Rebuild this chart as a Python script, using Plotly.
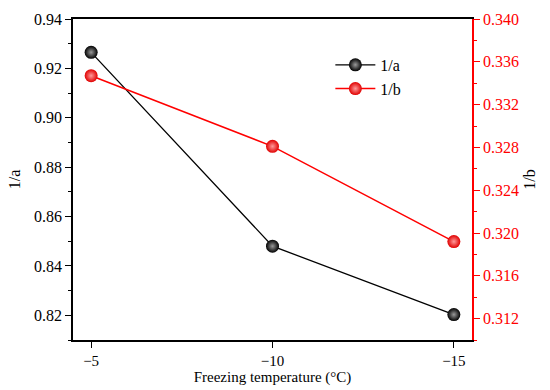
import plotly.graph_objects as go

temps = [-5, -10, -15]
inv_a = [0.9265, 0.848, 0.8203]
inv_b = [0.3347, 0.3281, 0.3192]

font = "Times New Roman, Liberation Serif, serif"

fig = go.Figure()
fig.add_trace(go.Scatter(
    x=temps, y=inv_a, name="1/a", mode="lines+markers",
    line=dict(color="black", width=1.3),
    marker=dict(size=13, color="black", gradient=dict(type="radial", color="#9a9a9a")),
    yaxis="y"))
fig.add_trace(go.Scatter(
    x=temps, y=inv_b, name="1/b", mode="lines+markers",
    line=dict(color="red", width=1.5),
    marker=dict(size=13, color="#e00000", gradient=dict(type="radial", color="#ff9a9a")),
    yaxis="y2"))

fig.update_layout(
    template="none",
    width=550, height=390,
    margin=dict(l=73, r=78, t=19, b=50, autoexpand=False),
    paper_bgcolor="white", plot_bgcolor="white",
    font=dict(family=font, size=16, color="black"),
    showlegend=True,
    legend=dict(x=0.645, y=0.91, xanchor="left", yanchor="top",
                bgcolor="rgba(0,0,0,0)", font=dict(family=font, size=16),
                itemwidth=40, tracegroupgap=0),
    xaxis=dict(
        range=[-4.5, -15.5], tickvals=temps, ticktext=["\u22125", "\u221210", "\u221215"],
        showline=True, linecolor="black", linewidth=1.5, mirror=True,
        ticks="outside", ticklen=6, tickwidth=1.3, tickcolor="black",
        showgrid=False, zeroline=False, automargin=False,
        title=dict(text="Freezing temperature (°C)", font=dict(family=font, size=15), standoff=3),
        tickfont=dict(family=font, size=15, color="black")),
    yaxis=dict(
        range=[0.81, 0.94], dtick=0.02, tick0=0.82, tickformat=".2f",
        showline=True, linecolor="black", linewidth=1.5,
        ticks="outside", ticklen=6, tickwidth=1.3, tickcolor="black",
        minor=dict(ticks="outside", ticklen=3, dtick=0.01, tickcolor="black", tickwidth=1.2),
        showgrid=False, zeroline=False, automargin=False,
        tickfont=dict(family=font, size=16, color="black"),
        title=dict(text="1/a", font=dict(family=font, size=16), standoff=9)),
    yaxis2=dict(
        range=[0.310, 0.340], dtick=0.004, tick0=0.312, tickformat=".3f",
        overlaying="y", side="right",
        showline=True, linecolor="red", linewidth=1.5,
        ticks="outside", ticklen=6, tickwidth=1.3, tickcolor="red",
        minor=dict(ticks="outside", ticklen=3, dtick=0.002, tickcolor="red", tickwidth=1.2),
        tickfont=dict(family=font, size=16, color="red"),
        showgrid=False, zeroline=False, automargin=False,
        title=dict(text="1/b", font=dict(family=font, size=16, color="black"), standoff=6)),
)

fig.write_html("out.html", post_script="document.body.style.margin='0';",
               config={"displayModeBar": False})
